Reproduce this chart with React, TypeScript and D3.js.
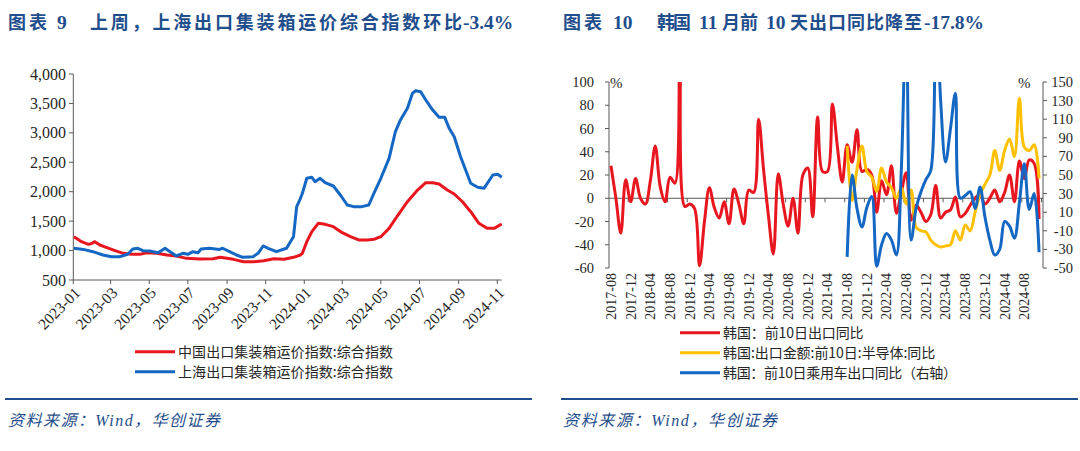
import React from 'react';
import * as d3 from 'd3';

const W = 1080;
const H = 451;
const NAVY = '#1F4E8C';
const RED = '#E8161F';
const BLUE = '#1467C2';
const YELLOW = '#FFC000';
const AXIS = '#595959';
const LABEL = '#262626';
const SERIF = '"Liberation Serif","Times New Roman","Noto Sans CJK SC",serif';
const CJK = '"Noto Sans CJK SC","Noto Sans",sans-serif';

// ---------------- Left chart data (weekly freight indices) ----------------
const ccfiDates = [
  '2023-01-02', '2023-01-14', '2023-01-25', '2023-01-30', '2023-02-04', '2023-02-12', '2023-02-22',
  '2023-03-08', '2023-03-21', '2023-04-03', '2023-04-16', '2023-04-27', '2023-05-13', '2023-05-29',
  '2023-06-13', '2023-06-29', '2023-07-20', '2023-08-10', '2023-08-21', '2023-09-01', '2023-09-11',
  '2023-09-27', '2023-10-13', '2023-10-29', '2023-11-14', '2023-11-30', '2023-12-15', '2023-12-26',
  '2023-12-29', '2024-01-05', '2024-01-13', '2024-01-23', '2024-02-03', '2024-02-16', '2024-03-01',
  '2024-03-14', '2024-03-27', '2024-04-10', '2024-04-20', '2024-05-01', '2024-05-14', '2024-05-27',
  '2024-06-12', '2024-06-28', '2024-07-11', '2024-07-22', '2024-08-01', '2024-08-14', '2024-08-25',
  '2024-09-07', '2024-09-20', '2024-10-03', '2024-10-16', '2024-10-27', '2024-11-08',
];
const ccfiValues = [
  1236, 1151, 1106, 1121, 1151, 1095, 1055,
  998, 953, 936, 936, 964, 953, 925,
  908, 868, 857, 862, 885, 868, 851,
  811, 811, 828, 862, 851, 885, 925,
  953, 1151, 1321, 1463, 1446, 1406, 1304,
  1236, 1180, 1180, 1191, 1236, 1378, 1587,
  1830, 2029, 2153, 2153, 2131, 2029, 1961,
  1830, 1660, 1463, 1378, 1378, 1451,
];
const scfiDates = [
  '2023-01-02', '2023-01-17', '2023-02-01', '2023-02-17', '2023-03-02', '2023-03-15', '2023-03-28',
  '2023-04-05', '2023-04-13', '2023-04-21', '2023-05-02', '2023-05-15', '2023-05-26', '2023-06-03',
  '2023-06-13', '2023-06-23', '2023-07-01', '2023-07-09', '2023-07-17', '2023-07-22', '2023-08-04',
  '2023-08-20', '2023-08-25', '2023-09-05', '2023-09-16', '2023-09-26', '2023-10-12', '2023-10-20',
  '2023-10-28', '2023-11-05', '2023-11-18', '2023-12-04', '2023-12-15', '2023-12-20', '2023-12-25',
  '2023-12-29', '2024-01-05', '2024-01-13', '2024-01-18', '2024-01-26', '2024-02-03', '2024-02-16',
  '2024-02-27', '2024-03-09', '2024-03-19', '2024-04-01', '2024-04-12', '2024-04-20', '2024-05-01',
  '2024-05-14', '2024-05-24', '2024-06-01', '2024-06-12', '2024-06-20', '2024-06-25', '2024-07-03',
  '2024-07-11', '2024-07-22', '2024-08-01', '2024-08-10', '2024-08-17', '2024-08-25', '2024-09-04',
  '2024-09-20', '2024-10-01', '2024-10-11', '2024-10-25', '2024-11-02', '2024-11-08',
];
const scfiValues = [
  1040, 1020, 981, 925, 896, 896, 937,
  1027, 1039, 998, 993, 964, 1039, 981,
  908, 953, 936, 981, 964, 1027, 1039,
  1020, 1039, 981, 925, 885, 896, 953,
  1078, 1039, 981, 1039, 1236, 1746, 1860,
  1973, 2228, 2245, 2171, 2228, 2154, 2097,
  1944, 1774, 1746, 1746, 1774, 1973, 2228,
  2567, 3020, 3219, 3417, 3672, 3716, 3700,
  3558, 3388, 3264, 3264, 3077, 2935, 2595,
  2143, 2075, 2058, 2284, 2295, 2245,
];
const leftYTicks = [500, 1000, 1500, 2000, 2500, 3000, 3500, 4000];
const leftXTicks = [
  '2023-01', '2023-03', '2023-05', '2023-07', '2023-09', '2023-11',
  '2024-01', '2024-03', '2024-05', '2024-07', '2024-09', '2024-11',
];
const leftLegend = ['中国出口集装箱运价指数:综合指数', '上海出口集装箱运价指数:综合指数'];

// ---------------- Right chart data (monthly, 2017-08 .. 2024-11) ----------------
const monthStart = new Date(2017, 7, 1);
const monthEnd = new Date(2024, 10, 1);
const months = d3.timeMonth.range(monthStart, d3.timeMonth.offset(monthEnd, 1)).map(d3.timeFormat('%Y-%m'));

const koreaExport = [
  28, 0, -30, 16, -3, 17, 0, -5, 15, 45,
  10, -3, 18, 13, 120, -7, -5, -9, -58, -20,
  9, -8, -17, -3, -22, 8, -5, -22, 7, 5,
  68, 25, -15, -48, 21, -5, -24, 0, -30, 20,
  26, -16, 70, 23, 23, 81, 45, 14, 46, 31,
  59, 23, 25, 20, -12, 15, 3, 28, -13, 5,
  22, -19, -6, -12, -20, -14, 11, -17, -12, -10,
  1, -16, -13, -6, 0, 3, -5, 0, 7, -3,
  5, 20, -3, 32, 17, 33, 30, -17.8,
];
const semiExport: (number | null)[] = [
  null, null, null, null, null, null, null, null, null, null,
  null, null, null, null, null, null, null, null, null, null,
  null, null, null, null, null, null, null, null, null, null,
  null, null, null, null, null, null, null, null, null, null,
  null, null, null, null, null, null, null, null, 45, -2,
  25, 45, 23, 18, 6, 26, 14, 9, 0, 9,
  -5, 7, -25, -28, -29, -36, -40, -42, -41, -40,
  -28, -36, -23, -28, -12, 3, 12, 20, 41, 24,
  41, 51, 36, 86, 44, 41, 46, 17,
];
const carExport: (number | null)[] = [
  null, null, null, null, null, null, null, null, null, null,
  null, null, null, null, null, null, null, null, null, null,
  null, null, null, null, null, null, null, null, null, null,
  null, null, null, null, null, null, null, null, null, null,
  null, null, null, null, null, null, null, null, -38, 50,
  14, -6, 15, 27, -48, -25, -13, -20, -36, 55,
  220, -20, 14, 32, 45, 55, 250, 130, 64, 100,
  138, 25, 28, 32, 14, 37, 5, -20, -36, -30,
  0, -5, -18, 20, 62, 13, 30, -33,
];
const rightLeftTicks = [-60, -40, -20, 0, 20, 40, 60, 80, 100];
const rightRightTicks = [-50, -30, -10, 10, 30, 50, 70, 90, 110, 130, 150];
const rightLabelStep = 4;
const rightLegend = ['韩国：前10日出口同比', '韩国:出口金额:前10日:半导体:同比', '韩国：前10日乘用车出口同比（右轴）'];

const parse = d3.timeParse('%Y-%m-%d');
const parseMonth = d3.timeParse('%Y-%m');

function LeftChart() {
  const x = d3.scaleTime().domain([parse('2023-01-01')!, parse('2024-11-08')!]).range([73.3, 501.7]);
  const y = d3.scaleLinear().domain([500, 4000]).range([280, 74]);
  const line = d3.line<[Date, number]>().x(d => x(d[0])).y(d => y(d[1]));
  const ccfi = ccfiDates.map((s, i) => [parse(s)!, ccfiValues[i]] as [Date, number]);
  const scfi = scfiDates.map((s, i) => [parse(s)!, scfiValues[i]] as [Date, number]);
  const fmt = d3.format(',');
  return (
    <g>
      <line x1={73.3} x2={73.3} y1={74} y2={280} stroke={AXIS} strokeWidth={1} />
      {leftYTicks.map(t => (
        <g key={t}>
          <line x1={69} x2={73.3} y1={y(t)} y2={y(t)} stroke={AXIS} />
          <text x={66} y={y(t)} dy="0.35em" textAnchor="end" fontFamily={SERIF} fontSize={16} fill={LABEL}>{fmt(t)}</text>
        </g>
      ))}
      <line x1={73.3} x2={501.7} y1={280} y2={280} stroke={AXIS} strokeWidth={1} />
      {leftXTicks.map(t => {
        const px = x(parseMonth(t)!);
        return (
          <g key={t}>
            <line x1={px} x2={px} y1={280} y2={284} stroke={AXIS} />
            <text transform={`translate(${px + 4},${290}) rotate(-45)`} textAnchor="end" dy="0.35em"
              fontFamily={SERIF} fontSize={15.5} fill={LABEL}>{t}</text>
          </g>
        );
      })}
      <path d={line(ccfi)!} fill="none" stroke={RED} strokeWidth={3} strokeLinejoin="round" />
      <path d={line(scfi)!} fill="none" stroke={BLUE} strokeWidth={3} strokeLinejoin="round" />
      {leftLegend.map((t, i) => (
        <g key={t}>
          <line x1={135} x2={175} y1={351.7 + i * 20} y2={351.7 + i * 20} stroke={i === 0 ? RED : BLUE} strokeWidth={3} />
          <text x={178} y={351.7 + i * 20} dy="0.35em" fontFamily={CJK} fontSize={14} fill={LABEL}
            textLength={215} lengthAdjust="spacing">{t}</text>
        </g>
      ))}
    </g>
  );
}

function RightChart() {
  const x = d3.scaleLinear().domain([-0.4, 87.8]).range([609, 1043]);
  const yL = d3.scaleLinear().domain([-60, 100]).range([268, 82]);
  const yR = d3.scaleLinear().domain([-50, 150]).range([268, 82]);
  const curve = d3.curveCatmullRom.alpha(0.5);
  const lineL = d3.line<number | null>().defined(v => v != null).x((_, i) => x(i)).y(v => yL(v as number)).curve(curve);
  const lineR = d3.line<number | null>().defined(v => v != null).x((_, i) => x(i)).y(v => yR(v as number)).curve(curve);
  const tickIdx = months.map((_, i) => i).filter(i => i % rightLabelStep === 0 && i <= 84);
  const minorTicks = months.map((_, i) => i).filter(i => i % rightLabelStep === 3);
  return (
    <g>
      <defs>
        <clipPath id="rclip">
          <rect x={609} y={82} width={434} height={186} />
        </clipPath>
      </defs>
      <line x1={609} x2={609} y1={82} y2={268} stroke={AXIS} />
      {rightLeftTicks.map(t => (
        <g key={t}>
          <line x1={605} x2={609} y1={yL(t)} y2={yL(t)} stroke={AXIS} />
          <text x={594} y={yL(t)} dy="0.35em" textAnchor="end" fontFamily={SERIF} fontSize={14.5} fill={LABEL}>{t}</text>
        </g>
      ))}
      <line x1={1043} x2={1043} y1={82} y2={268} stroke={AXIS} />
      {rightRightTicks.map(t => (
        <g key={t}>
          <line x1={1043} x2={1047} y1={yR(t)} y2={yR(t)} stroke={AXIS} />
          <text x={1073} y={yR(t)} dy="0.35em" textAnchor="end" fontFamily={SERIF} fontSize={14.5} fill={LABEL}>{t}</text>
        </g>
      ))}
      <text x={610} y={88} fontFamily={SERIF} fontSize={15} fill={LABEL}>%</text>
      <text x={1018} y={88} fontFamily={SERIF} fontSize={15} fill={LABEL}>%</text>
      <line x1={609} x2={1043} y1={yL(0)} y2={yL(0)} stroke={AXIS} strokeWidth={1.2} />
      {minorTicks.map(i => (
        <line key={i} x1={x(i + 0.5)} x2={x(i + 0.5)} y1={yL(0)} y2={yL(0) + 4} stroke={AXIS} />
      ))}
      {tickIdx.map(i => (
        <text key={i} transform={`translate(${x(i)},${273}) rotate(-90)`} textAnchor="end" dy="0.35em"
          fontFamily={SERIF} fontSize={14} fill={LABEL}>{months[i]}</text>
      ))}
      <g clipPath="url(#rclip)">
        <path d={lineL(koreaExport)!} fill="none" stroke={RED} strokeWidth={3} strokeLinejoin="round" />
        <path d={lineL(semiExport)!} fill="none" stroke={YELLOW} strokeWidth={3} strokeLinejoin="round" />
        <path d={lineR(carExport)!} fill="none" stroke={BLUE} strokeWidth={3} strokeLinejoin="round" />
      </g>
      {rightLegend.map((t, i) => {
        const yy = 332.7 + i * 20;
        const widths = [140.6, 212.3, 234];
        return (
          <g key={t}>
            <line x1={680} x2={720} y1={yy} y2={yy} stroke={[RED, YELLOW, BLUE][i]} strokeWidth={3} />
            <text x={723} y={yy} dy="0.35em" fontFamily={CJK} fontSize={14} fill={LABEL}
              textLength={widths[i]} lengthAdjust="spacing">{t}</text>
          </g>
        );
      })}
    </g>
  );
}

const titleParts: { t: string; x: number; w?: number; serif?: boolean }[] = [
  { t: '图表', x: 8, w: 39 },
  { t: '9', x: 57, serif: true },
  { t: '上周，上海出口集装箱运价综合指数环比', x: 90, w: 372 },
  { t: '-3.4%', x: 463, serif: true },
  { t: '图表', x: 563, w: 39 },
  { t: '10', x: 613, serif: true },
  { t: '韩国', x: 657, w: 34 },
  { t: '11', x: 699, serif: true },
  { t: '月前', x: 722, w: 36 },
  { t: '10', x: 766, serif: true },
  { t: '天出口同比降至', x: 790, w: 132 },
  { t: '-17.8%', x: 924, serif: true },
];

export default function App() {
  return (
    <svg width={W} height={H} style={{ position: 'absolute', left: 0, top: 0, background: '#fff' }}>
      <rect x={0} y={0} width={W} height={H} fill="#fff" />
      {titleParts.map((p, i) => (
        <text key={i} x={p.x} y={29} fontFamily={p.serif ? SERIF : CJK} fontWeight="bold"
          fontSize={p.serif ? 19.5 : 18} fill={NAVY}
          {...(p.w ? { textLength: p.w, lengthAdjust: 'spacing' } : {})}>{p.t}</text>
      ))}
      <LeftChart />
      <RightChart />
      <line x1={5} x2={532} y1={399} y2={399} stroke={NAVY} strokeWidth={2} />
      <line x1={561} x2={1078} y1={399} y2={399} stroke={NAVY} strokeWidth={2} />
      <text x={8} y={426} fontFamily={SERIF} fontStyle="italic" fontSize={16} fill={NAVY} textLength={212} lengthAdjust="spacing">资料来源：Wind，华创证券</text>
      <text x={563} y={426} fontFamily={SERIF} fontStyle="italic" fontSize={16} fill={NAVY} textLength={214} lengthAdjust="spacing">资料来源：Wind，华创证券</text>
    </svg>
  );
}
